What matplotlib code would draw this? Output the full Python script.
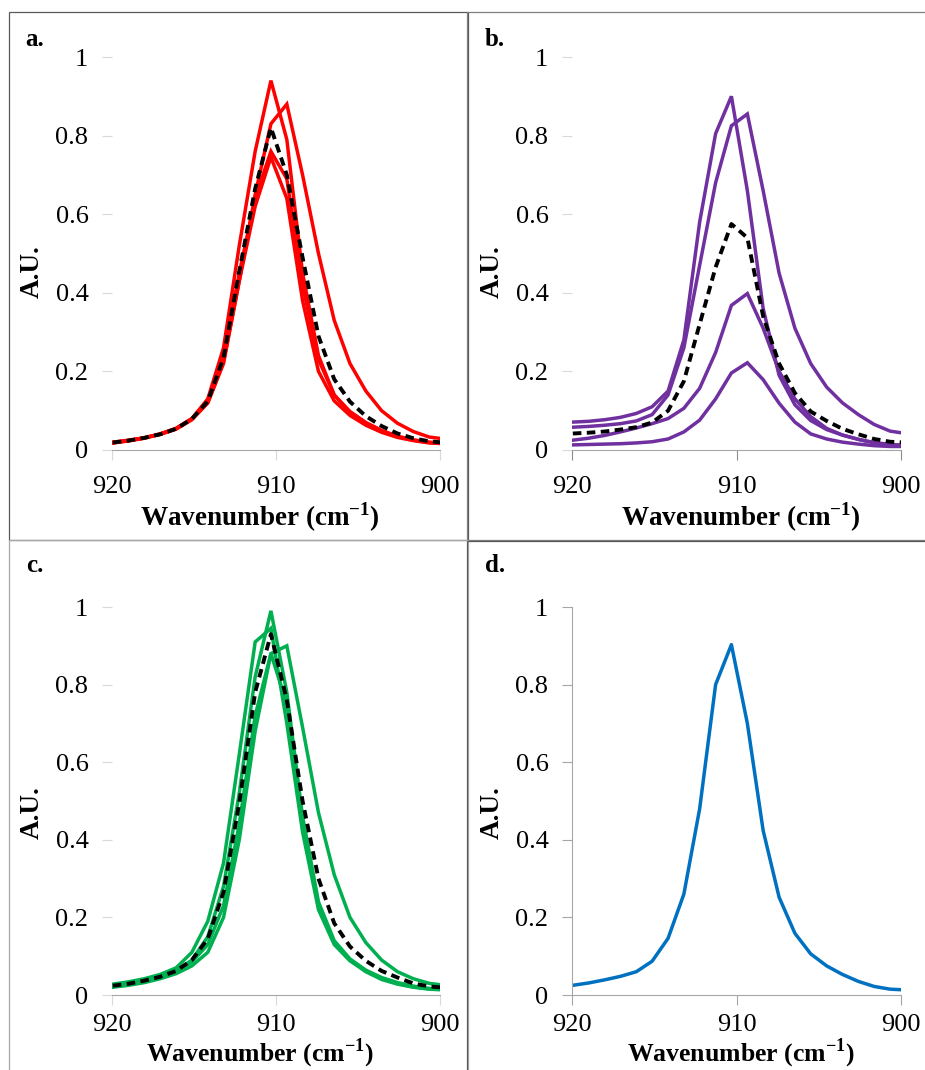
"""Four-panel IR spectra figure (910 cm-1 band) -> out.png"""

import matplotlib
matplotlib.use("Agg")
import matplotlib.pyplot as plt
from matplotlib.patches import Rectangle

plt.rcParams["font.family"] = ["Liberation Serif", "DejaVu Serif"]
plt.rcParams["mathtext.fontset"] = "custom"
plt.rcParams["mathtext.rm"] = "Liberation Serif"

# wavenumber axis (cm-1), shared by every trace
wavenumber = [919.95, 918.99, 918.02, 917.06, 916.09, 915.13, 914.16, 913.20,
              912.24, 911.27, 910.31, 909.34, 908.38, 907.41, 906.45, 905.49,
              904.52, 903.56, 902.59, 901.63, 900.66, 899.70]

# panel a (red traces + dashed mean)
a_traces = [
    [0.018, 0.024, 0.031, 0.041, 0.055, 0.080, 0.130, 0.260, 0.520, 0.760, 0.940,
     0.790, 0.450, 0.240, 0.140, 0.095, 0.068, 0.048, 0.034, 0.025, 0.019, 0.016],
    [0.020, 0.025, 0.031, 0.040, 0.054, 0.078, 0.120, 0.220, 0.430, 0.650, 0.830,
     0.880, 0.700, 0.500, 0.330, 0.220, 0.150, 0.100, 0.068, 0.047, 0.033, 0.028],
    [0.019, 0.024, 0.031, 0.041, 0.055, 0.080, 0.125, 0.235, 0.450, 0.640, 0.760,
     0.690, 0.420, 0.230, 0.140, 0.098, 0.070, 0.050, 0.035, 0.026, 0.020, 0.018],
    [0.018, 0.023, 0.030, 0.040, 0.053, 0.077, 0.120, 0.225, 0.430, 0.620, 0.745,
     0.640, 0.380, 0.200, 0.125, 0.088, 0.063, 0.045, 0.032, 0.024, 0.018, 0.016],
]
a_mean = [0.019, 0.024, 0.031, 0.040, 0.054, 0.079, 0.124, 0.235, 0.455, 0.665, 0.820,
          0.700, 0.490, 0.290, 0.180, 0.123, 0.086, 0.061, 0.042, 0.030, 0.022, 0.019]

# panel b (purple traces + dashed mean)
b_traces = [
    [0.071, 0.073, 0.077, 0.083, 0.093, 0.110, 0.150, 0.280, 0.580, 0.805, 0.900,
     0.660, 0.360, 0.190, 0.115, 0.075, 0.052, 0.038, 0.027, 0.019, 0.014, 0.012],
    [0.058, 0.060, 0.063, 0.067, 0.074, 0.090, 0.140, 0.260, 0.470, 0.680, 0.825,
     0.855, 0.660, 0.450, 0.310, 0.220, 0.160, 0.120, 0.090, 0.065, 0.048, 0.042],
    [0.025, 0.030, 0.037, 0.046, 0.056, 0.067, 0.080, 0.106, 0.157, 0.248, 0.368,
     0.398, 0.310, 0.200, 0.130, 0.085, 0.055, 0.038, 0.027, 0.018, 0.013, 0.011],
    [0.013, 0.014, 0.015, 0.016, 0.018, 0.021, 0.028, 0.046, 0.076, 0.130, 0.196,
     0.222, 0.179, 0.119, 0.071, 0.041, 0.028, 0.020, 0.015, 0.011, 0.009, 0.009],
]
b_mean = [0.042, 0.044, 0.047, 0.052, 0.058, 0.070, 0.100, 0.175, 0.320, 0.465, 0.575,
          0.540, 0.340, 0.220, 0.145, 0.098, 0.074, 0.054, 0.040, 0.028, 0.021, 0.019]

# panel c (green traces + dashed mean)
c_traces = [
    [0.022, 0.028, 0.036, 0.047, 0.062, 0.090, 0.150, 0.280, 0.520, 0.820, 0.990,
     0.780, 0.460, 0.240, 0.140, 0.093, 0.064, 0.045, 0.032, 0.023, 0.017, 0.015],
    [0.028, 0.034, 0.042, 0.053, 0.070, 0.110, 0.190, 0.340, 0.620, 0.910, 0.945,
     0.700, 0.420, 0.220, 0.130, 0.088, 0.061, 0.043, 0.030, 0.021, 0.016, 0.014],
    [0.025, 0.030, 0.038, 0.048, 0.062, 0.085, 0.130, 0.230, 0.440, 0.720, 0.880,
     0.900, 0.690, 0.470, 0.310, 0.200, 0.135, 0.090, 0.060, 0.042, 0.030, 0.025],
    [0.020, 0.025, 0.032, 0.042, 0.055, 0.075, 0.110, 0.200, 0.400, 0.680, 0.880,
     0.750, 0.440, 0.230, 0.135, 0.090, 0.060, 0.040, 0.028, 0.020, 0.015, 0.013],
]
c_mean = [0.024, 0.029, 0.037, 0.047, 0.062, 0.090, 0.145, 0.265, 0.495, 0.780, 0.930,
          0.760, 0.500, 0.300, 0.185, 0.125, 0.088, 0.062, 0.045, 0.030, 0.022, 0.019]

# panel d (single blue trace)
d_trace = [0.025, 0.031, 0.039, 0.048, 0.060, 0.087, 0.146, 0.260, 0.480, 0.800, 0.903,
           0.700, 0.424, 0.252, 0.159, 0.106, 0.075, 0.053, 0.035, 0.022, 0.015, 0.013]

yticks = [0, 0.2, 0.4, 0.6, 0.8, 1]
ytick_labels = ["0", "0.2", "0.4", "0.6", "0.8", "1"]
xticks = [920, 910, 900]

W, H = 925, 1070
fig = plt.figure(figsize=(W / 100, H / 100), dpi=100)


def px_box(x0, y_top, x1, y_bot):
    """pixel box (origin top-left) -> figure fraction rect"""
    return [x0 / W, 1 - y_bot / H, (x1 - x0) / W, (y_bot - y_top) / H]


# panel frames
for (x0, y0, x1, y1, col) in [(9, 12, 468, 540, "#595959"), (467, 12, 930, 540, "#7f7f7f"),
                              (9, 540, 468, 1075, "#a6a6a6"), (467, 541, 930, 1075, "#595959")]:
    fig.add_artist(Rectangle((x0 / W, 1 - y1 / H), (x1 - x0) / W, (y1 - y0) / H,
                             transform=fig.transFigure, fill=False,
                             edgecolor=col, lw=0.9))


def style(ax, left_spine=False, xtick_col="#d9d9d9", xpad=12):
    ax.set_xlim(920, 900)
    ax.set_ylim(0, 1)
    ax.set_yticks(yticks)
    ax.set_yticklabels(ytick_labels)
    ax.set_xticks(xticks)
    for s in ["top", "right"]:
        ax.spines[s].set_visible(False)
    ax.spines["left"].set_visible(left_spine)
    ax.spines["left"].set_color("#a6a6a6")
    ax.spines["bottom"].set_color("#a6a6a6")
    ax.tick_params(axis="y", length=7, width=0.8, color="#d9d9d9",
                   labelsize=19, pad=10)
    ax.tick_params(axis="x", length=7, width=0.8, color=xtick_col,
                   labelsize=19, pad=xpad)
    if left_spine:
        ax.tick_params(axis="y", color="#a6a6a6")
    ax.patch.set_visible(False)


def traces(ax, data, mean, color):
    for y in data:
        ax.plot(wavenumber, y, color=color, lw=2.5, solid_joinstyle="miter")
    ax.plot(wavenumber, mean, color="black", lw=2.8, dashes=(2.2, 1.4))


ax_a = fig.add_axes(px_box(112, 57, 440, 450))
traces(ax_a, a_traces, a_mean, "#ff0000")
style(ax_a)

ax_b = fig.add_axes(px_box(572, 57, 901, 450))
traces(ax_b, b_traces, b_mean, "#7030a0")
style(ax_b, xtick_col="#8c8c8c")

ax_c = fig.add_axes(px_box(112, 607, 440, 995))
traces(ax_c, c_traces, c_mean, "#00b050")
style(ax_c, xpad=7)

ax_d = fig.add_axes(px_box(572, 607, 901, 995))
ax_d.plot(wavenumber, d_trace, color="#0070c0", lw=2.5)
style(ax_d, left_spine=True, xtick_col="#a6a6a6", xpad=7)

xlab = r"Wavenumber (cm$^{\mathregular{-1}}$)"
for x, y, fs in [(260, 526, 19.5), (741, 526, 19.5), (260, 1061, 18.5), (741, 1061, 18.5)]:
    fig.text(x / W, 1 - y / H, xlab, ha="center", va="baseline",
             fontsize=fs, fontweight="bold")
for x, y in [(32, 272), (492, 272), (32, 813), (492, 813)]:
    fig.text(x / W, 1 - y / H, "A.U.", ha="center", va="center",
             rotation=90, fontsize=19.5, fontweight="bold")
for s, x, y in [("a.", 35, 39), ("b.", 495, 39), ("c.", 35, 565), ("d.", 495, 565)]:
    fig.text(x / W, 1 - y / H, s, ha="center", va="center",
             fontsize=18, fontweight="bold")

fig.savefig("out.png", dpi=100)
